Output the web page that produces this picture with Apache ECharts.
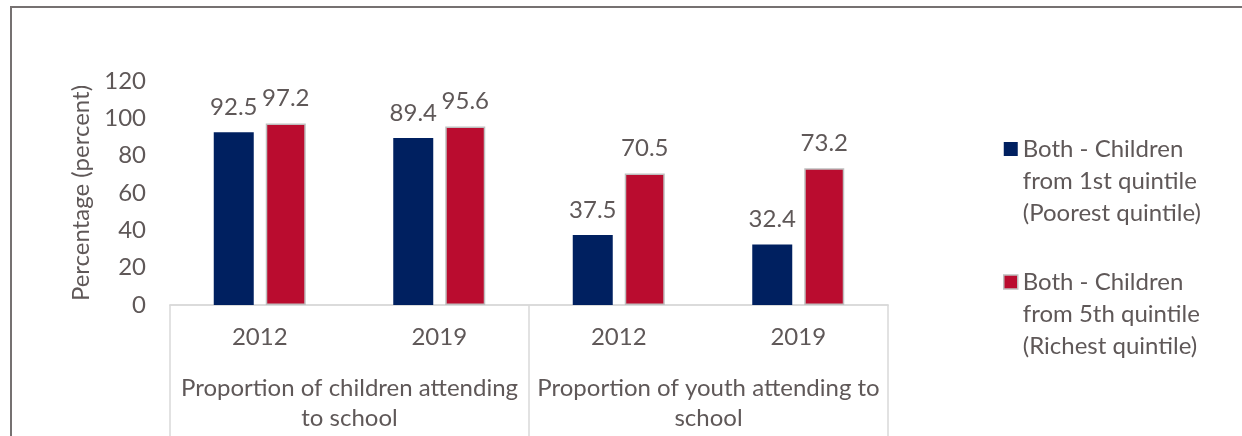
<!DOCTYPE html>
<html>
<head>
<meta charset="utf-8">
<script src="https://cdn.jsdelivr.net/npm/echarts@6/dist/echarts.min.js"></script>
<style>
  html, body { margin: 0; padding: 0; background: #ffffff; }
  #chart { width: 1242px; height: 436px; }
</style>
</head>
<body>
<div id="chart"></div>
<script>
// School attendance by wealth quintile
const years = ['2012', '2019', '2012', '2019'];
const groups = ['Proportion of children attending\nto school', 'Proportion of youth attending to\nschool'];
const poorestName = 'Both - Children from 1st quintile (Poorest quintile)';
const richestName = 'Both - Children from 5th quintile (Richest quintile)';
const poorest = [92.5, 89.4, 37.5, 32.4];
const richest = [97.2, 95.6, 70.5, 73.2];
const yTicks = [0, 20, 40, 60, 80, 100, 120];

const FONT = 'Lato';
const FS = 24;
const TEXT = '#5f5858';
const NAVY = '#002060';
const RED = '#ba0c2f';

const chart = echarts.init(document.getElementById('chart'), null, { renderer: 'canvas' });

chart.setOption({
  animation: false,
  backgroundColor: '#ffffff',
  textStyle: { fontFamily: FONT, color: TEXT },
  graphic: [{
    type: 'polyline',
    shape: { points: [[11, 470], [11, 7], [1250, 7]] },
    style: { stroke: '#767171', lineWidth: 2, fill: null },
    silent: true
  }],
  grid: { left: 170, right: 354, top: 81, bottom: 131, containLabel: false },
  legend: {
    orient: 'vertical',
    left: 1003,
    top: 69,
    padding: 0,
    icon: 'rect',
    itemWidth: 14,
    itemHeight: 14,
    itemGap: -27,
    selectedMode: false,
    textStyle: { fontFamily: FONT, fontSize: FS, color: TEXT, lineHeight: 32 },
    // two leading blank lines keep the first text line level with the swatch
    formatter: function (name) {
      return '\n\n' + name.replace(' from', '\nfrom').replace(' (', '\n(');
    },
    data: [
      { name: poorestName, itemStyle: { color: NAVY, borderWidth: 0 } },
      { name: richestName, itemStyle: { color: RED, borderColor: '#bfbfbf', borderWidth: 1.5 } }
    ]
  },
  xAxis: [
    {
      type: 'category',
      data: years,
      position: 'bottom',
      axisLine: { show: true, lineStyle: { color: '#d9d9d9', width: 1.5 } },
      axisTick: { show: false },
      axisLabel: { interval: 0, fontFamily: FONT, fontSize: FS, color: TEXT, margin: 20 }
    },
    {
      type: 'category',
      data: groups,
      position: 'bottom',
      axisLine: { show: true, lineStyle: { color: '#d9d9d9', width: 1.5 } },
      axisTick: { show: true, inside: false, length: 140, lineStyle: { color: '#d9d9d9', width: 1.5 } },
      axisLabel: { interval: 0, fontFamily: FONT, fontSize: FS, color: TEXT, margin: 68, lineHeight: 30 }
    }
  ],
  yAxis: {
    type: 'value',
    min: yTicks[0],
    max: yTicks[yTicks.length - 1],
    interval: yTicks[1] - yTicks[0],
    name: 'Percentage (percent)',
    nameLocation: 'middle',
    nameGap: 73,
    nameRotate: 90,
    nameTextStyle: { fontFamily: FONT, fontSize: FS, color: TEXT },
    axisLine: { show: false },
    axisTick: { show: false },
    splitLine: { show: false },
    axisLabel: { fontFamily: FONT, fontSize: FS, color: TEXT, margin: 24 }
  },
  series: [
    {
      name: poorestName,
      type: 'bar',
      xAxisIndex: 0,
      data: poorest,
      barWidth: 40,
      barGap: '30%',
      itemStyle: { color: NAVY },
      label: { show: true, position: 'top', distance: 13, fontFamily: FONT, fontSize: FS, color: TEXT }
    },
    {
      name: richestName,
      type: 'bar',
      xAxisIndex: 0,
      data: richest,
      barWidth: 40,
      barGap: '30%',
      itemStyle: { color: RED, borderColor: '#bfbfbf', borderWidth: 1.5 },
      label: { show: true, position: 'top', distance: 13, fontFamily: FONT, fontSize: FS, color: TEXT }
    }
  ]
});
</script>
</body>
</html>
